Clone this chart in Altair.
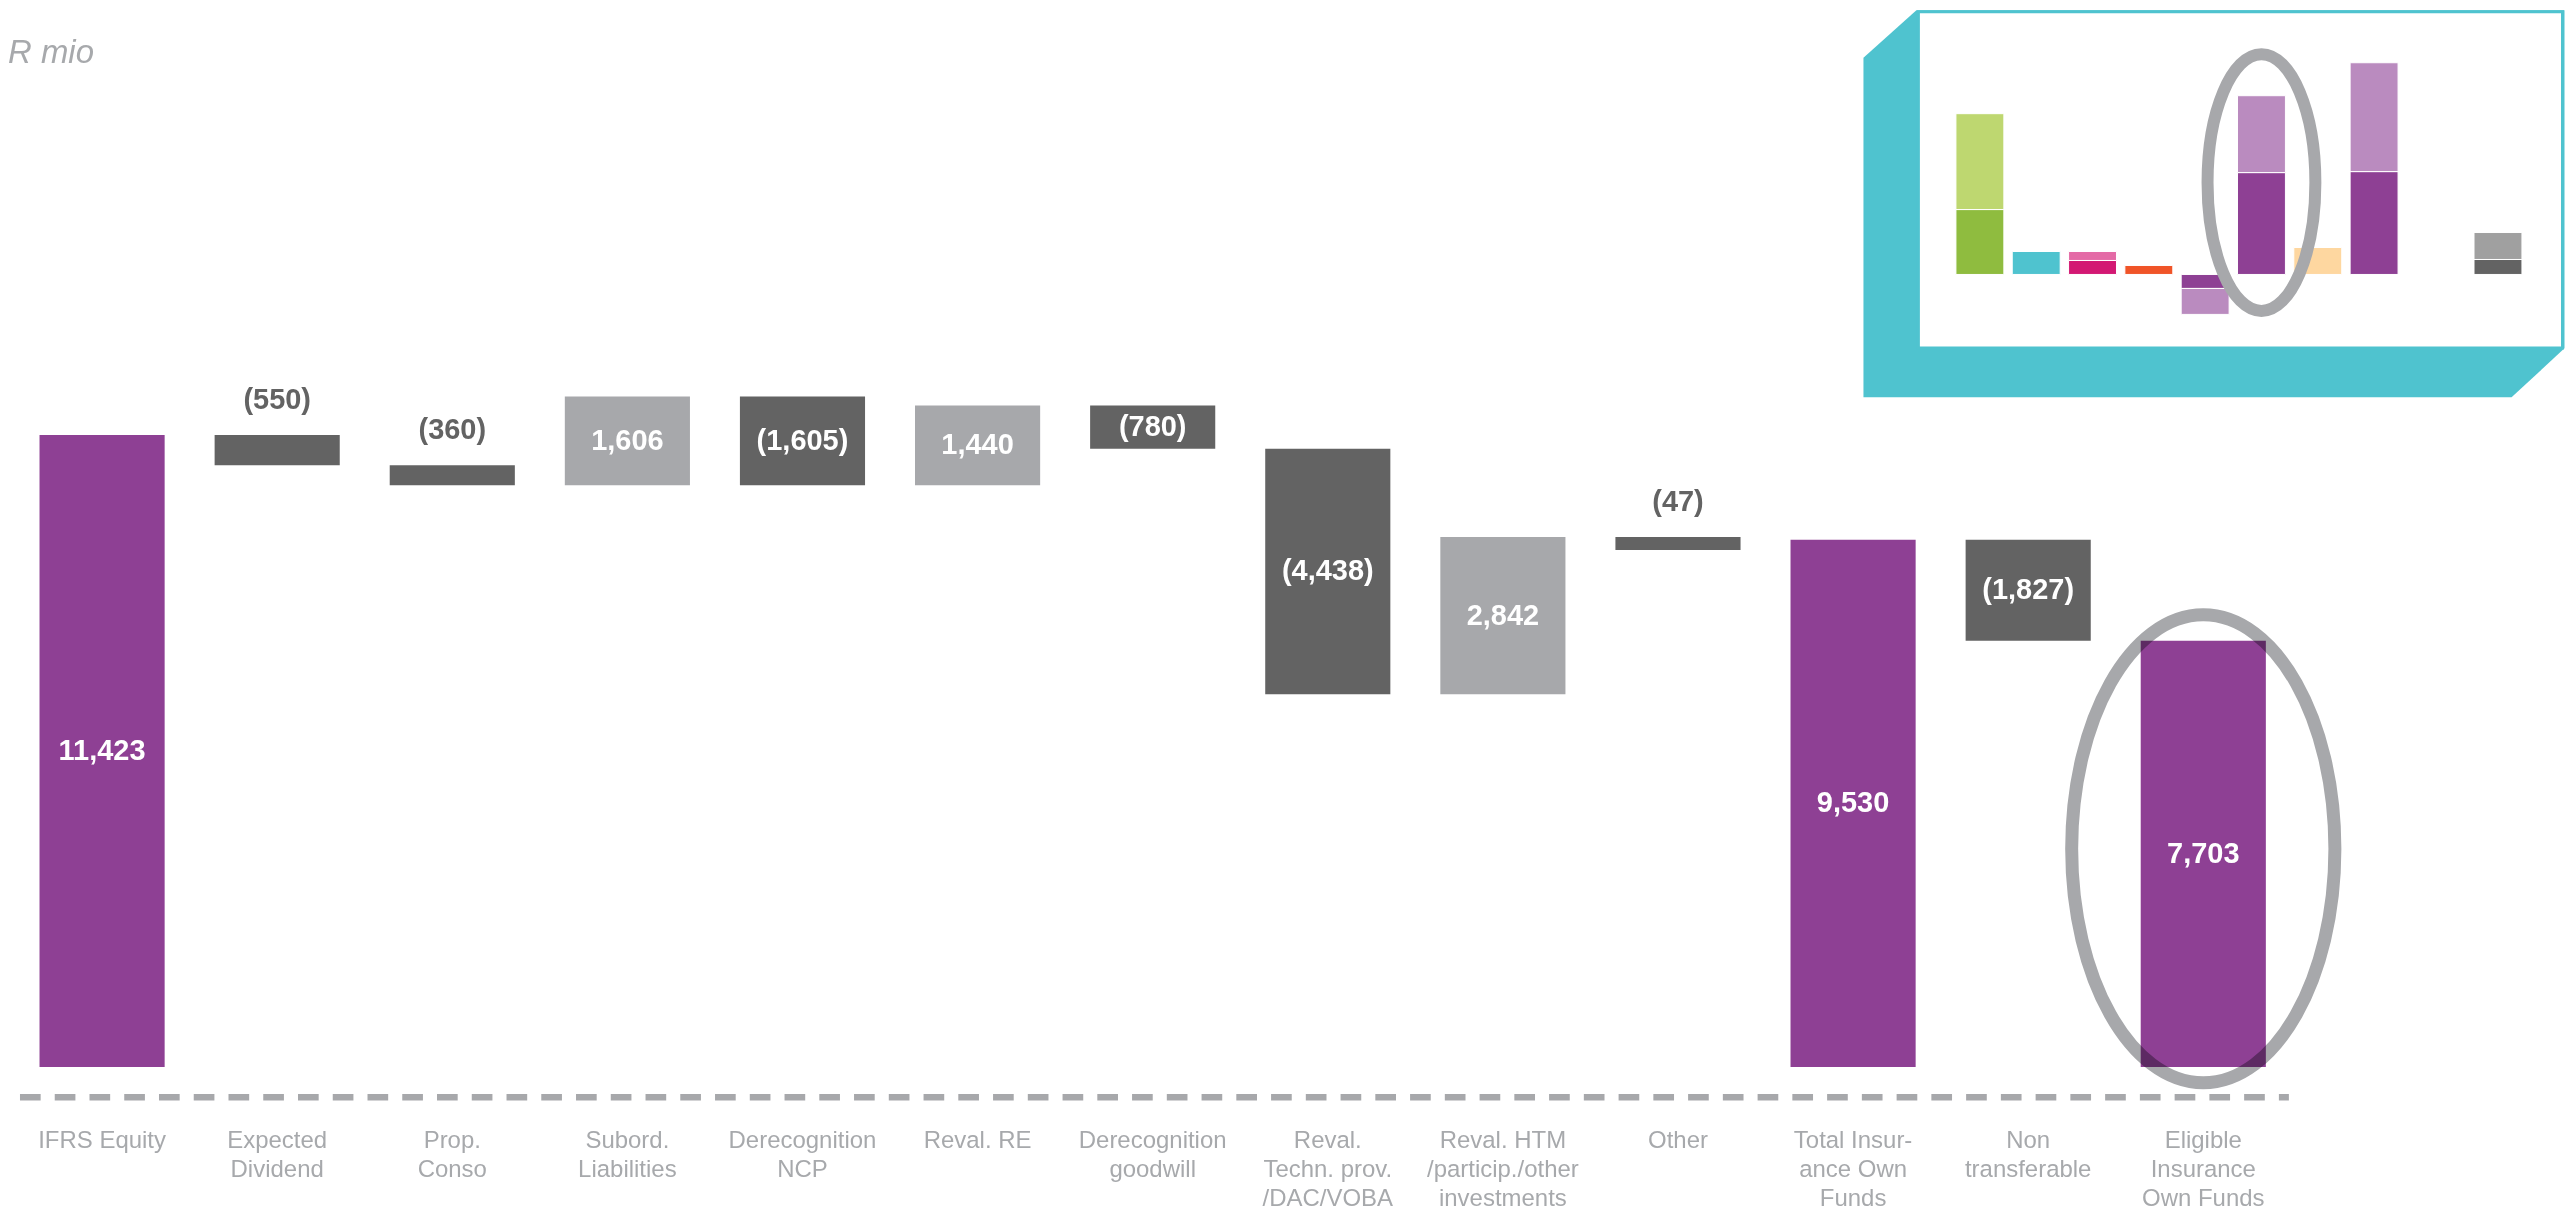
import altair as alt
import pandas as pd

# ---------------- data ----------------
categories = ["IFRS Equity", "Expected\nDividend", "Prop.\nConso", "Subord.\nLiabilities",
              "Derecognition\nNCP", "Reval. RE", "Derecognition\ngoodwill",
              "Reval.\nTechn. prov.\n/DAC/VOBA", "Reval. HTM\n/particip./other\ninvestments",
              "Other", "Total Insur-\nance Own\nFunds", "Non\ntransferable",
              "Eligible\nInsurance\nOwn Funds"]
amounts = [11423, -550, -360, 1606, -1605, 1440, -780, -4438, 2842, -47, 9530, -1827, 7703]
is_total = [True, False, False, False, False, False, False, False, False, False, True, False, True]

# inset mini chart (stacked segments)
inset_slot = [1, 2, 3, 4, 5, 6, 7, 8, 10.2]
inset_lower = [65, 23, 14, 9, -14, 102, 27, 103, 15]
inset_upper = [96, 0, 9, 0, -26, 77, 0, 109, 27]
inset_lower_color = ["#8FBC3F", "#4FC3CF", "#D31873", "#F05428", "#8E4094",
                     "#8E4094", "#FED7A0", "#8E4094", "#636363"]
inset_upper_color = ["#BED770", "#4FC3CF", "#E46AA6", "#F05428", "#BA8BBF",
                     "#BA8BBF", "#FED7A0", "#BA8BBF", "#A0A0A0"]

# ---------------- styles ----------------
PURPLE = "#8E4094"
LGREY = "#A7A8AB"
DGREY = "#636363"
TXTGREY = "#A7A9AC"
TEAL = "#4FC3CF"
FONT = "Liberation Sans"
MIN_DRAWN = 235  # smallest drawn bar height (data units) so tiny steps stay visible

# ---------------- waterfall table ----------------
rows = []
level = 0
for cat, amt, tot in zip(categories, amounts, is_total):
    if tot:
        lo, hi = 0, amt
        level = amt
        kind = "total"
    else:
        start, end = level, level + amt
        lo, hi = min(start, end), max(start, end)
        level = end
        kind = "up" if amt > 0 else "down"
    draw_lo = min(lo, hi - MIN_DRAWN)
    label = f"{amt:,}" if amt >= 0 else f"({-amt:,})"
    rows.append(dict(cat=cat, lo=draw_lo, hi=hi, mid=(lo + hi) / 2, kind=kind,
                     label=label, inside=bool(abs(amt) >= 600)))
df = pd.DataFrame(rows)

irows = []
for s, lo, up, c1, c2 in zip(inset_slot, inset_lower, inset_upper,
                             inset_lower_color, inset_upper_color):
    irows.append(dict(slot=s, y0=0, y1=lo, color=c1))
    if up != 0:
        irows.append(dict(slot=s, y0=lo, y1=lo + up, color=c2))
idf = pd.DataFrame(irows)

one = pd.DataFrame({"k": [0]})

W, H = 2292.5, 1090

x_main = alt.X("cat:N", sort=categories,
               scale=alt.Scale(type="band", paddingInner=0.2854, paddingOuter=0.18),
               axis=alt.Axis(title=None, labelAngle=0, labelExpr="split(datum.label, '\\n')",
                             labelFontSize=24, labelColor=TXTGREY, labelFont=FONT,
                             ticks=False, tickSize=0, domain=False, labelPadding=31,
                             labelLineHeight=29, labelLimit=400, labelOverlap=False,
                             grid=False))
y_scale = alt.Scale(domain=[-550, 19125], nice=False, zero=False)

bars = alt.Chart(df).mark_bar().encode(
    x=x_main,
    y=alt.Y("lo:Q", scale=y_scale, axis=None),
    y2="hi:Q",
    color=alt.Color("kind:N", scale=alt.Scale(domain=["total", "up", "down"],
                                              range=[PURPLE, LGREY, DGREY]), legend=None),
)

lab_in = alt.Chart(df).transform_filter("datum.inside").mark_text(
    color="white", fontSize=29, fontWeight="bold", baseline="middle", font=FONT
).encode(x=x_main, y=alt.Y("mid:Q", scale=y_scale, axis=None), text="label:N")

lab_out = alt.Chart(df).transform_filter("!datum.inside").mark_text(
    color=DGREY, fontSize=29, fontWeight="bold", baseline="middle", dy=-35, font=FONT
).encode(x=x_main, y=alt.Y("hi:Q", scale=y_scale, axis=None), text="label:N")

ell_df = pd.DataFrame({"cat": [categories[-1]], "y": [amounts[-1] / 2]})
main_ell = alt.Chart(ell_df).mark_point(
    shape="M 0.5625 0 A 0.5625 1 0 1 1 -0.5625 0 A 0.5625 1 0 1 1 0.5625 0 Z",
    size=468.6 ** 2, filled=False, stroke=LGREY, strokeWidth=13, opacity=1,
    blend="multiply", yOffset=-5
).encode(x=x_main, y=alt.Y("y:Q", scale=y_scale, axis=None))

dash = alt.Chart(one).mark_rule(color=LGREY, strokeWidth=6.5, strokeDash=[20.7, 14.1]).encode(
    x=alt.value(12), x2=alt.value(2284), y=alt.value(H))

unit = alt.Chart(one).mark_text(align="left", baseline="alphabetic", fontStyle="italic",
                                fontSize=33, color=TXTGREY, font=FONT).encode(
    x=alt.value(0), y=alt.value(54), text=alt.value("R mio"))

main = alt.layer(bars, lab_in, lab_out, main_ell, dash, unit)

# ---------------- inset ----------------
frame = alt.Chart(one).mark_point(
    shape="M -1 -0.4167 L -0.849 -0.552 L 1 -0.552 L 1 0.4124 L 0.849 0.552 L -1 0.552 Z",
    size=702 ** 2, filled=True, color=TEAL, strokeWidth=0, opacity=1
).encode(x=alt.value(2209), y=alt.value(195.25))

box = alt.Chart(one).mark_rect(fill="white", stroke=TEAL, strokeWidth=3).encode(
    x=alt.value(1913), x2=alt.value(2558), y=alt.value(3), y2=alt.value(339.7))

ix = alt.Scale(domain=[0, 11], range=[1913.2, 2543.5], nice=False, zero=False)
iy = alt.Scale(domain=[0, 100], range=[266, 166], nice=False, zero=False)

ibars = alt.Chart(idf).mark_bar(width=48, stroke="white", strokeWidth=1).encode(
    x=alt.X("slot:Q", scale=ix, axis=None),
    y=alt.Y("y0:Q", scale=iy, axis=None),
    y2="y1:Q",
    color=alt.Color("color:N", scale=None),
)

iell = alt.Chart(pd.DataFrame({"slot": [6], "y": [92]})).mark_point(
    shape="M 0.4202 0 A 0.4202 1 0 1 1 -0.4202 0 A 0.4202 1 0 1 1 0.4202 0 Z",
    size=257 ** 2, filled=False, stroke=LGREY, strokeWidth=12, opacity=1
).encode(x=alt.X("slot:Q", scale=ix, axis=None), y=alt.Y("y:Q", scale=iy, axis=None))

inset = alt.layer(frame, box, ibars, iell)

chart = alt.layer(main, inset).resolve_scale(
    x="independent", y="independent"
).properties(
    width=W, height=H, padding={"left": 0, "top": 0, "right": 0, "bottom": 0},
    background="white"
).configure(
    font=FONT, view=alt.ViewConfig(stroke="transparent", strokeWidth=0)
)

chart.save("out.html", embed_options={"renderer": "svg", "actions": False})
